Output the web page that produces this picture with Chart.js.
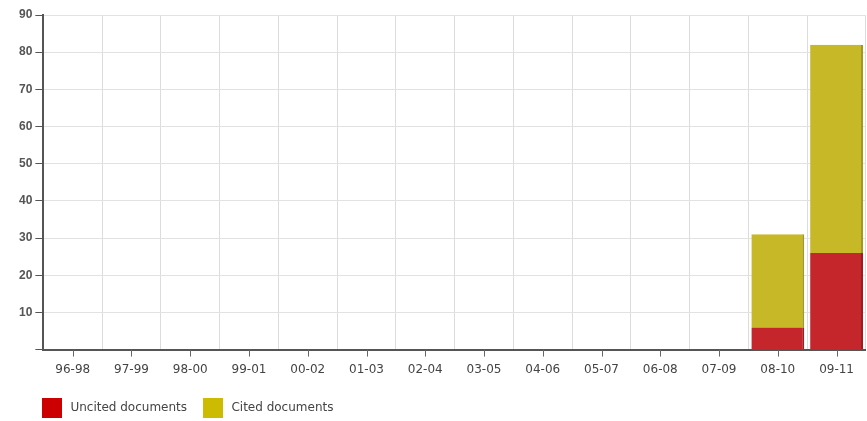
<!DOCTYPE html>
<html>
<head>
<meta charset="utf-8">
<script src="https://cdn.jsdelivr.net/npm/chart.js@4"></script>
<style>
  html, body { margin: 0; padding: 0; background: #fff; }
  #wrap { width: 867px; height: 421px; }
</style>
</head>
<body>
<div id="wrap"><canvas id="myChart"></canvas></div>
<script>
const periods = ["96-98", "97-99", "98-00", "99-01", "00-02", "01-03", "02-04", "03-05", "04-06", "05-07", "06-08", "07-09", "08-10", "09-11"];
const uncited = [0, 0, 0, 0, 0, 0, 0, 0, 0, 0, 0, 0, 6, 26];
const cited = [0, 0, 0, 0, 0, 0, 0, 0, 0, 0, 0, 0, 25, 56];

const legendColours = ["#cc0000", "#ccbb00"];
const labelFont = "DejaVu Sans, Verdana, sans-serif";
const tickFont = "Liberation Sans, Arial, sans-serif";

// short tick marks under category centres
const centreTicks = {
    id: "centreTicks",
    afterLayout: (chart) => {
        // nudge the legend a little, like the original
        chart.legend.left += 10;
        chart.legend.top -= 8;
    },
    afterDraw: (chart) => {
        var x = chart.scales.x;
        var ctx = chart.ctx;
        ctx.save();
        ctx.strokeStyle = "#666";
        ctx.lineWidth = 1;
        for (var i = 0; i < periods.length; i++) {
            var px = Math.round(x.getPixelForValue(i)) + 0.5;
            ctx.beginPath();
            ctx.moveTo(px, x.top);
            ctx.lineTo(px, x.top + 7);
            ctx.stroke();
        }
        ctx.restore();
    }
};

var ctx = document.getElementById("myChart").getContext("2d");

var config = {
    type: "bar",
    data: {
        labels: periods,
        datasets: [{
            label: "Uncited documents",
            data: uncited,
            backgroundColor: "#c4262b",
            borderColor: "#a01c20",
            borderWidth: { right: 2 },
            borderSkipped: false,
            barPercentage: 0.9,
            categoryPercentage: 1,
        }, {
            label: "Cited documents",
            data: cited,
            backgroundColor: "#c6b826",
            borderColor: "#a39820",
            borderWidth: { right: 2 },
            borderSkipped: false,
            barPercentage: 0.9,
            categoryPercentage: 1,
        }],
    },
    options: {
        responsive: true,
        maintainAspectRatio: false,
        animation: false,
        layout: { padding: { top: 15, right: 0, left: 16, bottom: -15 } },
        plugins: {
            tooltip: { enabled: false },
            legend: {
                position: "bottom",
                align: "start",
                labels: {
                    boxWidth: 20,
                    boxHeight: 20,
                    padding: 16,
                    color: "#444",
                    font: { family: labelFont, size: 12 },
                    generateLabels: (chart) => {
                        var items = Chart.defaults.plugins.legend.labels.generateLabels(chart);
                        items.forEach((item, i) => {
                            item.text = "\u2009" + item.text;
                            item.fillStyle = legendColours[i];
                            item.strokeStyle = legendColours[i];
                            item.lineWidth = 0;
                        });
                        return items;
                    },
                },
            },
        },
        scales: {
            x: {
                stacked: true,
                grid: {
                    offset: true,
                    color: "#dcdcdc",
                    drawTicks: false,
                },
                border: { color: "#555", width: 2 },
                ticks: {
                    padding: 13,
                    color: "#444",
                    maxRotation: 0,
                    font: { family: labelFont, size: 12 },
                },
            },
            y: {
                stacked: true,
                min: 0,
                max: 90,
                grid: {
                    color: "#e2e2e2",
                    tickColor: "#555",
                    tickLength: 8,
                },
                border: { color: "#555", width: 2 },
                ticks: {
                    stepSize: 10,
                    padding: 3,
                    color: "#555",
                    font: { family: tickFont, size: 12, weight: "bold" },
                    callback: (v) => v === 0 ? "" : v,
                },
            },
        },
    },
    plugins: [centreTicks],
};

var myChart = new Chart(ctx, config);
</script>
</body>
</html>
